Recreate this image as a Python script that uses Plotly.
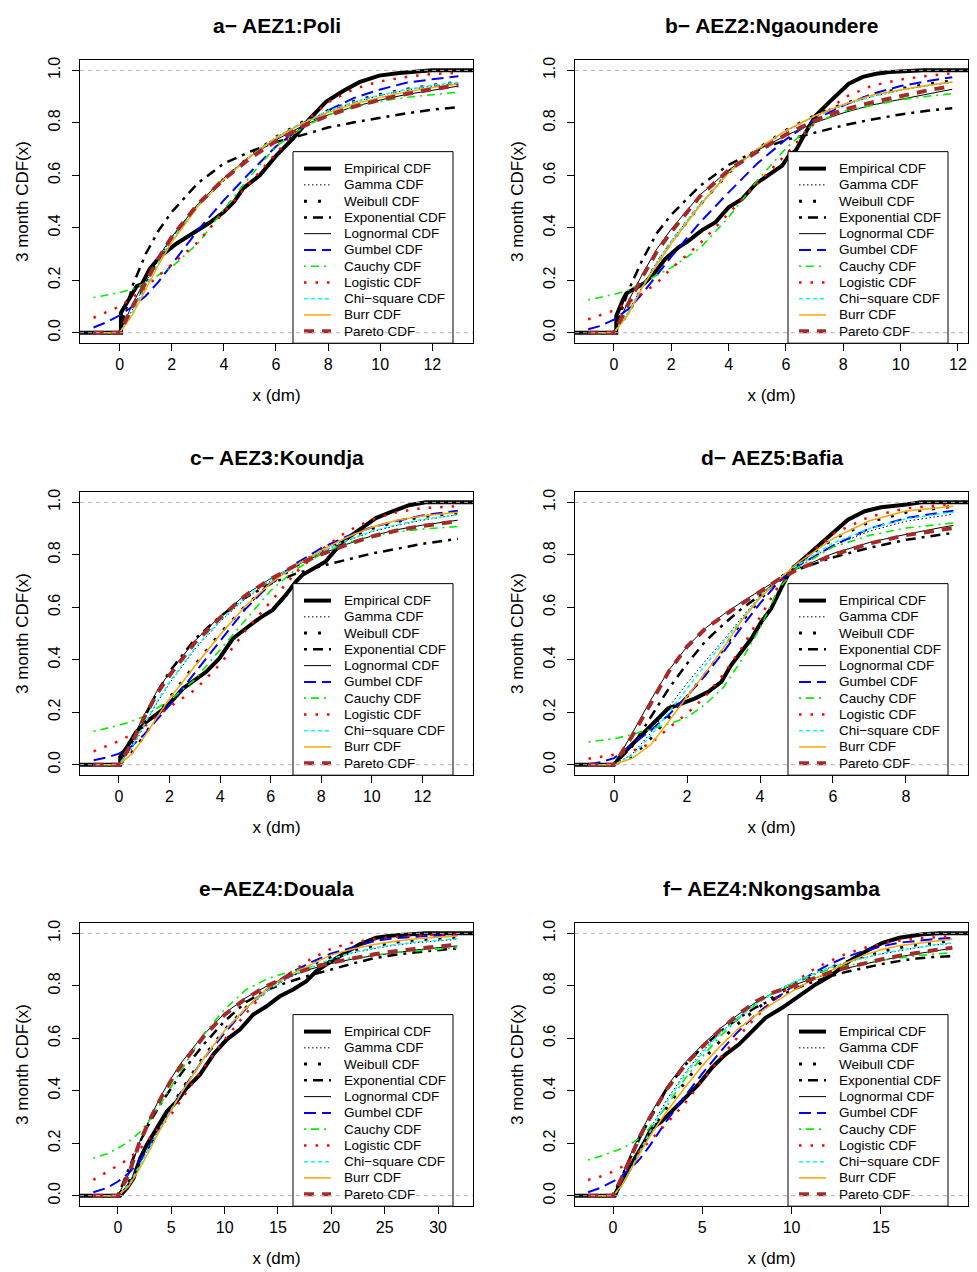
import plotly.graph_objects as go

# ---------------- data ----------------
TITLES = ["a\u2212 AEZ1:Poli", "b\u2212 AEZ2:Ngaoundere", "c\u2212 AEZ3:Koundja",
          "d\u2212 AEZ5:Bafia", "e\u2212AEZ4:Douala", "f\u2212 AEZ4:Nkongsamba"]
X_LABEL = "x (dm)"
Y_LABEL = "3 month CDF(x)"
LEGEND_LABELS = ["Empirical CDF", "Gamma CDF", "Weibull CDF", "Exponential CDF",
                 "Lognormal CDF", "Gumbel CDF", "Cauchy CDF", "Logistic CDF",
                 "Chi\u2212square CDF", "Burr CDF", "Pareto CDF"]
Y_TICKS = [0.0, 0.2, 0.4, 0.6, 0.8, 1.0]
X_TICKS = [[0, 2, 4, 6, 8, 10, 12], [0, 2, 4, 6, 8, 10, 12], [0, 2, 4, 6, 8, 10, 12],
           [0, 2, 4, 6, 8], [0, 5, 10, 15, 20, 25, 30], [0, 5, 10, 15]]
X_RANGES = [[-1.52, 13.56], [-1.36, 12.35], [-1.54, 14.0],
            [-1.07, 9.7], [-3.55, 33.27], [-2.13, 19.88]]

# ---- panel a
A_X = [-1, -0.5, 0, 0.5, 1, 1.5, 2, 3, 4, 5, 6, 7, 8, 9, 10, 11, 12, 13]
A_GAMMA = [0, 0, 0, 0.09, 0.19, 0.28, 0.36, 0.49, 0.59, 0.675, 0.745, 0.8, 0.845, 0.878, 0.905, 0.925, 0.94, 0.952]
A_WEIBULL = [0, 0, 0, 0.085, 0.185, 0.275, 0.355, 0.485, 0.585, 0.673, 0.745, 0.802, 0.847, 0.882, 0.908, 0.928, 0.943, 0.955]
A_EXP = [0, 0, 0, 0.18, 0.3, 0.39, 0.46, 0.57, 0.645, 0.69, 0.727, 0.753, 0.782, 0.802, 0.82, 0.836, 0.85, 0.86]
A_LNORM = [0, 0, 0, 0.11, 0.205, 0.29, 0.365, 0.49, 0.59, 0.67, 0.735, 0.787, 0.83, 0.862, 0.887, 0.908, 0.925, 0.94]
A_GUMBEL = [0.02, 0.04, 0.066, 0.10, 0.14, 0.195, 0.26, 0.39, 0.505, 0.61, 0.71, 0.785, 0.847, 0.895, 0.927, 0.953, 0.966, 0.978]
A_CAUCHY = [0.134, 0.143, 0.153, 0.167, 0.19, 0.22, 0.25, 0.34, 0.47, 0.595, 0.71, 0.78, 0.83, 0.86, 0.882, 0.897, 0.907, 0.917]
A_LOGIS = [0.057, 0.077, 0.10, 0.135, 0.172, 0.218, 0.26, 0.345, 0.46, 0.572, 0.687, 0.795, 0.878, 0.93, 0.958, 0.975, 0.986, 0.991]
A_CHISQ = [0, 0, 0, 0.08, 0.18, 0.27, 0.355, 0.485, 0.585, 0.672, 0.745, 0.8, 0.845, 0.88, 0.906, 0.927, 0.943, 0.955]
A_BURR = [0, 0, 0, 0.07, 0.165, 0.26, 0.345, 0.48, 0.585, 0.67, 0.742, 0.797, 0.84, 0.872, 0.897, 0.918, 0.935, 0.948]
A_PARETO = [0, 0, 0, 0.1, 0.195, 0.285, 0.365, 0.49, 0.585, 0.665, 0.73, 0.785, 0.828, 0.862, 0.888, 0.91, 0.928, 0.943]
A_EMP_X = [-1.52, 0.05, 0.05, 0.2, 0.41, 0.66, 0.85, 1.17, 1.55, 2.19, 2.83, 3.46, 4.0, 4.4, 4.74, 5.38, 6.01, 6.65, 7.29, 7.92, 8.56, 9.2, 9.96, 10.73, 12.0, 13.56]
A_EMP_Y = [0, 0, 0.076, 0.10, 0.14, 0.178, 0.185, 0.245, 0.29, 0.34, 0.38, 0.42, 0.46, 0.5, 0.55, 0.60, 0.675, 0.74, 0.815, 0.88, 0.92, 0.955, 0.98, 0.99, 1.0, 1.0]

# ---- panel b
B_X = [-0.9, -0.5, 0, 0.5, 1, 1.5, 2, 3, 4, 5, 6, 7, 8, 9, 10, 11, 11.8]
B_GAMMA = [0, 0, 0, 0.08, 0.18, 0.27, 0.35, 0.49, 0.61, 0.70, 0.77, 0.825, 0.867, 0.9, 0.924, 0.943, 0.955]
B_WEIBULL = [0, 0, 0, 0.075, 0.175, 0.265, 0.345, 0.487, 0.61, 0.70, 0.772, 0.828, 0.872, 0.905, 0.93, 0.948, 0.96]
B_EXP = [0, 0, 0, 0.16, 0.28, 0.38, 0.45, 0.56, 0.64, 0.695, 0.735, 0.762, 0.79, 0.813, 0.832, 0.847, 0.856]
B_LNORM = [0, 0, 0, 0.12, 0.225, 0.32, 0.395, 0.525, 0.62, 0.695, 0.752, 0.8, 0.838, 0.868, 0.89, 0.912, 0.928]
B_GUMBEL = [0.013, 0.025, 0.05, 0.09, 0.15, 0.22, 0.29, 0.42, 0.535, 0.645, 0.737, 0.812, 0.866, 0.91, 0.94, 0.96, 0.974]
B_CAUCHY = [0.125, 0.134, 0.146, 0.162, 0.19, 0.22, 0.248, 0.322, 0.44, 0.58, 0.703, 0.80, 0.844, 0.866, 0.888, 0.902, 0.911]
B_LOGIS = [0.051, 0.066, 0.085, 0.115, 0.15, 0.19, 0.245, 0.34, 0.456, 0.568, 0.68, 0.80, 0.895, 0.942, 0.965, 0.98, 0.989]
B_CHISQ = [0, 0, 0, 0.078, 0.178, 0.268, 0.35, 0.49, 0.61, 0.70, 0.77, 0.826, 0.868, 0.9, 0.925, 0.943, 0.955]
B_BURR = [0, 0, 0, 0.07, 0.175, 0.26, 0.34, 0.485, 0.61, 0.70, 0.77, 0.826, 0.87, 0.905, 0.926, 0.944, 0.956]
B_PARETO = [0, 0, 0, 0.11, 0.215, 0.31, 0.385, 0.52, 0.62, 0.69, 0.755, 0.808, 0.85, 0.878, 0.902, 0.925, 0.94]
B_EMP_X = [-1.36, 0.08, 0.08, 0.2, 0.32, 0.43, 0.73, 1.08, 1.43, 1.78, 2.25, 2.6, 3.06, 3.53, 4.0, 4.47, 4.94, 5.4, 5.87, 6.1, 6.34, 6.69, 7.04, 7.51, 7.86, 8.19, 8.68, 9.15, 9.61, 10.2, 10.8, 12.35]
B_EMP_Y = [0, 0, 0.064, 0.10, 0.127, 0.15, 0.17, 0.19, 0.23, 0.28, 0.325, 0.35, 0.39, 0.42, 0.478, 0.51, 0.567, 0.6, 0.637, 0.675, 0.694, 0.764, 0.828, 0.879, 0.917, 0.949, 0.975, 0.987, 0.994, 0.997, 1.0, 1.0]

# ---- panel c
C_X = [-1, -0.5, 0, 0.5, 1, 1.5, 2, 3, 4, 5, 6, 7, 8, 9, 10, 11, 12, 13.4]
C_GAMMA = [0, 0, 0, 0.06, 0.15, 0.235, 0.31, 0.44, 0.545, 0.633, 0.70, 0.757, 0.81, 0.853, 0.888, 0.912, 0.932, 0.953]
C_WEIBULL = [0, 0, 0, 0.045, 0.11, 0.185, 0.256, 0.38, 0.5, 0.605, 0.69, 0.758, 0.815, 0.862, 0.9, 0.927, 0.945, 0.96]
C_EXP = [0, 0, 0, 0.08, 0.18, 0.275, 0.355, 0.478, 0.565, 0.637, 0.69, 0.728, 0.757, 0.782, 0.805, 0.823, 0.842, 0.861]
C_LNORM = [0, 0, 0, 0.09, 0.19, 0.28, 0.35, 0.472, 0.565, 0.648, 0.71, 0.76, 0.803, 0.84, 0.872, 0.896, 0.913, 0.932]
C_GUMBEL = [0.017, 0.027, 0.042, 0.07, 0.115, 0.17, 0.227, 0.35, 0.47, 0.593, 0.69, 0.767, 0.825, 0.87, 0.905, 0.93, 0.95, 0.968]
C_CAUCHY = [0.127, 0.138, 0.15, 0.165, 0.185, 0.215, 0.245, 0.325, 0.438, 0.55, 0.664, 0.745, 0.803, 0.845, 0.872, 0.888, 0.898, 0.908]
C_LOGIS = [0.051, 0.07, 0.09, 0.115, 0.145, 0.185, 0.22, 0.285, 0.383, 0.51, 0.62, 0.733, 0.818, 0.888, 0.935, 0.963, 0.978, 0.985]
C_CHISQ = [0, 0, 0, 0.065, 0.155, 0.24, 0.315, 0.445, 0.55, 0.637, 0.705, 0.762, 0.812, 0.855, 0.89, 0.915, 0.935, 0.953]
C_BURR = [0, 0, 0, 0.04, 0.105, 0.18, 0.252, 0.375, 0.495, 0.605, 0.692, 0.76, 0.817, 0.866, 0.905, 0.932, 0.948, 0.962]
C_PARETO = [0, 0, 0, 0.08, 0.18, 0.27, 0.34, 0.465, 0.56, 0.645, 0.708, 0.76, 0.802, 0.838, 0.87, 0.893, 0.91, 0.928]
C_EMP_X = [-1.54, 0.05, 0.05, 0.16, 0.36, 0.68, 1.08, 1.6, 2.0, 2.53, 2.92, 3.45, 3.97, 4.5, 5.03, 5.55, 6.08, 6.6, 7.0, 7.26, 7.66, 8.18, 8.84, 9.5, 10.16, 10.82, 11.47, 12.13, 14.0]
C_EMP_Y = [0, 0, 0.03, 0.048, 0.074, 0.125, 0.163, 0.2, 0.233, 0.29, 0.316, 0.354, 0.405, 0.48, 0.52, 0.558, 0.59, 0.647, 0.698, 0.724, 0.746, 0.775, 0.85, 0.896, 0.94, 0.966, 0.989, 1.0, 1.0]

# ---- panel d
D_X = [-0.7, -0.35, 0, 0.5, 1, 1.5, 2, 2.5, 3, 3.5, 4, 4.5, 5, 6, 7, 8, 9, 9.3]
D_GAMMA = [0, 0, 0, 0.04, 0.12, 0.22, 0.31, 0.395, 0.475, 0.56, 0.645, 0.71, 0.755, 0.835, 0.89, 0.928, 0.95, 0.955]
D_WEIBULL = [0, 0, 0, 0.03, 0.1, 0.18, 0.26, 0.345, 0.44, 0.545, 0.63, 0.705, 0.765, 0.86, 0.925, 0.962, 0.981, 0.985]
D_EXP = [0, 0, 0, 0.07, 0.18, 0.29, 0.385, 0.47, 0.535, 0.595, 0.645, 0.70, 0.742, 0.79, 0.827, 0.857, 0.878, 0.883]
D_LNORM = [0, 0, 0, 0.12, 0.245, 0.36, 0.45, 0.52, 0.573, 0.62, 0.665, 0.707, 0.745, 0.805, 0.847, 0.878, 0.905, 0.912]
D_GUMBEL = [0.002, 0.01, 0.025, 0.078, 0.13, 0.19, 0.262, 0.34, 0.43, 0.525, 0.615, 0.695, 0.755, 0.835, 0.9, 0.94, 0.963, 0.968]
D_CAUCHY = [0.087, 0.092, 0.099, 0.115, 0.135, 0.155, 0.18, 0.23, 0.295, 0.4, 0.52, 0.67, 0.748, 0.83, 0.874, 0.902, 0.917, 0.921]
D_LOGIS = [0.023, 0.03, 0.038, 0.052, 0.08, 0.14, 0.195, 0.26, 0.345, 0.445, 0.56, 0.68, 0.762, 0.88, 0.945, 0.977, 0.99, 0.991]
D_CHISQ = [0, 0, 0, 0.035, 0.11, 0.2, 0.29, 0.38, 0.465, 0.555, 0.64, 0.708, 0.758, 0.845, 0.9, 0.937, 0.958, 0.962]
D_BURR = [0, 0, 0, 0.025, 0.075, 0.165, 0.26, 0.35, 0.445, 0.55, 0.635, 0.705, 0.765, 0.862, 0.93, 0.967, 0.982, 0.985]
D_PARETO = [0, 0, 0, 0.11, 0.235, 0.355, 0.45, 0.518, 0.568, 0.615, 0.66, 0.705, 0.742, 0.8, 0.843, 0.875, 0.896, 0.902]
D_EMP_X = [-1.07, 0.0, 0.2, 0.47, 0.75, 1.11, 1.48, 1.84, 2.21, 2.58, 2.94, 3.21, 3.49, 3.76, 4.04, 4.31, 4.58, 4.77, 4.95, 5.32, 5.68, 6.05, 6.41, 6.87, 7.32, 7.96, 8.42, 9.7]
D_EMP_Y = [0, 0, 0.036, 0.074, 0.112, 0.163, 0.214, 0.233, 0.252, 0.278, 0.316, 0.38, 0.43, 0.48, 0.545, 0.596, 0.673, 0.724, 0.755, 0.8, 0.845, 0.889, 0.934, 0.966, 0.981, 0.991, 1.0, 1.0]

# ---- panel e
E_X = [-2.3, -1, 0, 1, 2, 3, 4, 5, 6, 8, 10, 12, 14, 16, 18, 20, 22, 24, 26, 28, 30, 31.8]
E_GAMMA = [0, 0, 0, 0.045, 0.115, 0.19, 0.265, 0.335, 0.4, 0.525, 0.63, 0.715, 0.78, 0.83, 0.868, 0.9, 0.925, 0.942, 0.955, 0.965, 0.972, 0.977]
E_WEIBULL = [0, 0, 0, 0.05, 0.12, 0.195, 0.27, 0.34, 0.405, 0.528, 0.632, 0.717, 0.785, 0.838, 0.878, 0.91, 0.935, 0.952, 0.965, 0.974, 0.98, 0.984]
E_EXP = [0, 0, 0, 0.1, 0.2, 0.28, 0.35, 0.41, 0.47, 0.575, 0.665, 0.738, 0.785, 0.815, 0.84, 0.862, 0.885, 0.905, 0.918, 0.928, 0.936, 0.943]
E_LNORM = [0, 0, 0, 0.08, 0.2, 0.295, 0.378, 0.448, 0.51, 0.612, 0.695, 0.755, 0.8, 0.836, 0.863, 0.885, 0.902, 0.915, 0.927, 0.937, 0.945, 0.952]
E_GUMBEL = [0.013, 0.03, 0.054, 0.085, 0.13, 0.19, 0.26, 0.33, 0.4, 0.52, 0.62, 0.713, 0.79, 0.845, 0.888, 0.923, 0.948, 0.97, 0.982, 0.988, 0.992, 0.994]
E_CAUCHY = [0.143, 0.16, 0.181, 0.205, 0.24, 0.29, 0.35, 0.417, 0.483, 0.614, 0.71, 0.785, 0.827, 0.852, 0.873, 0.892, 0.907, 0.918, 0.927, 0.933, 0.94, 0.945]
E_LOGIS = [0.06, 0.09, 0.115, 0.14, 0.175, 0.22, 0.265, 0.31, 0.37, 0.488, 0.595, 0.695, 0.785, 0.845, 0.9, 0.942, 0.965, 0.978, 0.987, 0.992, 0.995, 0.996]
E_CHISQ = [0, 0, 0, 0.04, 0.11, 0.185, 0.26, 0.33, 0.397, 0.522, 0.628, 0.715, 0.782, 0.832, 0.87, 0.902, 0.927, 0.944, 0.957, 0.967, 0.974, 0.979]
E_BURR = [0, 0, 0, 0.035, 0.1, 0.175, 0.255, 0.325, 0.395, 0.52, 0.63, 0.715, 0.79, 0.84, 0.88, 0.918, 0.94, 0.957, 0.97, 0.979, 0.985, 0.99]
E_PARETO = [0, 0, 0, 0.08, 0.2, 0.29, 0.37, 0.44, 0.5, 0.605, 0.69, 0.752, 0.8, 0.838, 0.866, 0.888, 0.905, 0.92, 0.932, 0.942, 0.95, 0.957]
E_EMP_X = [-3.55, 0.2, 0.84, 1.46, 2.09, 2.71, 3.64, 4.58, 5.51, 6.45, 7.69, 8.94, 10.19, 11.43, 12.68, 13.93, 15.17, 16.42, 17.66, 18.6, 19.53, 21.09, 22.65, 24.2, 25.76, 28.88, 33.27]
E_EMP_Y = [0, 0, 0.028, 0.066, 0.143, 0.194, 0.257, 0.321, 0.359, 0.41, 0.461, 0.538, 0.595, 0.633, 0.69, 0.722, 0.76, 0.786, 0.818, 0.856, 0.882, 0.92, 0.958, 0.983, 0.992, 1.0, 1.0]

# ---- panel f
F_X = [-1.4, -0.7, 0, 0.5, 1, 1.5, 2, 3, 4, 5, 6, 7, 8, 9, 10, 11, 12, 13, 14, 15, 16, 17, 18, 19]
F_GAMMA = [0, 0, 0, 0.04, 0.11, 0.18, 0.245, 0.365, 0.465, 0.55, 0.62, 0.68, 0.733, 0.775, 0.81, 0.84, 0.866, 0.888, 0.906, 0.921, 0.934, 0.945, 0.955, 0.962]
F_WEIBULL = [0, 0, 0, 0.045, 0.105, 0.168, 0.23, 0.335, 0.43, 0.515, 0.59, 0.655, 0.71, 0.758, 0.8, 0.835, 0.865, 0.89, 0.912, 0.93, 0.945, 0.956, 0.965, 0.972]
F_EXP = [0, 0, 0, 0.075, 0.15, 0.22, 0.285, 0.405, 0.495, 0.565, 0.625, 0.675, 0.718, 0.752, 0.783, 0.81, 0.833, 0.852, 0.868, 0.882, 0.894, 0.904, 0.91, 0.913]
F_LNORM = [0, 0, 0, 0.075, 0.16, 0.235, 0.30, 0.415, 0.505, 0.575, 0.637, 0.69, 0.737, 0.772, 0.8, 0.823, 0.845, 0.865, 0.882, 0.897, 0.91, 0.922, 0.933, 0.943]
F_GUMBEL = [0.013, 0.03, 0.054, 0.075, 0.105, 0.14, 0.185, 0.285, 0.377, 0.465, 0.548, 0.625, 0.69, 0.745, 0.795, 0.84, 0.878, 0.908, 0.932, 0.95, 0.964, 0.972, 0.978, 0.983]
F_CAUCHY = [0.136, 0.15, 0.168, 0.18, 0.198, 0.22, 0.255, 0.34, 0.443, 0.53, 0.607, 0.673, 0.73, 0.775, 0.808, 0.837, 0.86, 0.876, 0.888, 0.897, 0.907, 0.915, 0.921, 0.926]
F_LOGIS = [0.06, 0.073, 0.092, 0.11, 0.14, 0.17, 0.205, 0.275, 0.35, 0.437, 0.525, 0.605, 0.68, 0.745, 0.805, 0.853, 0.89, 0.92, 0.943, 0.96, 0.972, 0.98, 0.986, 0.99]
F_CHISQ = [0, 0, 0, 0.035, 0.1, 0.17, 0.235, 0.355, 0.458, 0.545, 0.618, 0.678, 0.73, 0.773, 0.81, 0.84, 0.866, 0.888, 0.906, 0.922, 0.935, 0.946, 0.956, 0.963]
F_BURR = [0, 0, 0, 0.04, 0.1, 0.16, 0.22, 0.32, 0.41, 0.495, 0.57, 0.635, 0.688, 0.735, 0.778, 0.817, 0.852, 0.885, 0.915, 0.937, 0.953, 0.962, 0.97, 0.977]
F_PARETO = [0, 0, 0, 0.07, 0.15, 0.225, 0.29, 0.405, 0.495, 0.568, 0.632, 0.69, 0.74, 0.775, 0.797, 0.823, 0.847, 0.868, 0.885, 0.9, 0.914, 0.926, 0.936, 0.945]
F_EMP_X = [-2.13, 0.1, 0.38, 0.75, 1.22, 1.78, 2.16, 2.72, 3.28, 4.03, 4.78, 5.53, 6.29, 7.04, 7.79, 8.54, 9.47, 10.41, 11.35, 12.29, 13.23, 14.17, 15.1, 16.04, 17.35, 18.29, 19.88]
F_EMP_Y = [0, 0, 0.041, 0.079, 0.143, 0.206, 0.257, 0.283, 0.321, 0.372, 0.423, 0.487, 0.538, 0.576, 0.627, 0.678, 0.716, 0.761, 0.805, 0.843, 0.894, 0.932, 0.964, 0.983, 0.996, 1.0, 1.0]

PANELS = [
    (A_X, [A_GAMMA, A_WEIBULL, A_EXP, A_LNORM, A_GUMBEL, A_CAUCHY, A_LOGIS, A_CHISQ, A_BURR, A_PARETO], A_EMP_X, A_EMP_Y),
    (B_X, [B_GAMMA, B_WEIBULL, B_EXP, B_LNORM, B_GUMBEL, B_CAUCHY, B_LOGIS, B_CHISQ, B_BURR, B_PARETO], B_EMP_X, B_EMP_Y),
    (C_X, [C_GAMMA, C_WEIBULL, C_EXP, C_LNORM, C_GUMBEL, C_CAUCHY, C_LOGIS, C_CHISQ, C_BURR, C_PARETO], C_EMP_X, C_EMP_Y),
    (D_X, [D_GAMMA, D_WEIBULL, D_EXP, D_LNORM, D_GUMBEL, D_CAUCHY, D_LOGIS, D_CHISQ, D_BURR, D_PARETO], D_EMP_X, D_EMP_Y),
    (E_X, [E_GAMMA, E_WEIBULL, E_EXP, E_LNORM, E_GUMBEL, E_CAUCHY, E_LOGIS, E_CHISQ, E_BURR, E_PARETO], E_EMP_X, E_EMP_Y),
    (F_X, [F_GAMMA, F_WEIBULL, F_EXP, F_LNORM, F_GUMBEL, F_CAUCHY, F_LOGIS, F_CHISQ, F_BURR, F_PARETO], F_EMP_X, F_EMP_Y),
]

# ---------------- styles ----------------
STYLES = [
    dict(color="black", width=4, dash="solid"),                # Empirical
    dict(color="black", width=1, dash="1.5px,2.5px"),          # Gamma
    dict(color="black", width=3, dash="3px,11px"),             # Weibull
    dict(color="black", width=2.5, dash="3px,6px,10px,6px"),   # Exponential
    dict(color="black", width=1, dash="solid"),                # Lognormal
    dict(color="#0000FF", width=2, dash="12px,6px"),           # Gumbel
    dict(color="#00EE00", width=1.6, dash="2px,5px,8px,5px"),  # Cauchy
    dict(color="#FF0000", width=2.5, dash="2.5px,9px"),        # Logistic
    dict(color="#00FFFF", width=1.5, dash="4px,3px"),          # Chi-square
    dict(color="#FFA500", width=1.5, dash="solid"),            # Burr
    dict(color="#A52A2A", width=4, dash="10px,8px"),           # Pareto
]

FONT = "Liberation Sans, Arial, Helvetica, sans-serif"
W, H = 977, 1272
COL_L = [80, 575]
COL_W = 393
ROW_T = [57, 490, 922]
ROW_H = 284


def px_x(p):
    return p / W


def px_y(p):
    return 1 - p / H


fig = go.Figure()
layout = dict(width=W, height=H, margin=dict(l=0, r=0, t=0, b=0),
              paper_bgcolor="white", plot_bgcolor="white",
              font=dict(family=FONT, color="black"), showlegend=False)
shapes = []
annotations = []

for i, (grid, dists, ex, ey) in enumerate(PANELS):
    s = "" if i == 0 else str(i + 1)
    col, row = i % 2, i // 2
    L, T = COL_L[col], ROW_T[row]
    xa, ya = "x" + s, "y" + s

    # empirical first, then fitted curves
    fig.add_trace(go.Scatter(x=ex, y=ey, mode="lines", name=LEGEND_LABELS[0],
                             line=STYLES[0], xaxis=xa, yaxis=ya, hoverinfo="skip"))
    for k, yv in enumerate(dists):
        fig.add_trace(go.Scatter(x=grid, y=yv, mode="lines", name=LEGEND_LABELS[k + 1],
                                 line=STYLES[k + 1], xaxis=xa, yaxis=ya, hoverinfo="skip"))

    layout["xaxis" + s] = dict(
        domain=[px_x(L), px_x(L + COL_W)], anchor=ya, range=X_RANGES[i],
        tickmode="array", tickvals=X_TICKS[i], ticks="outside", ticklen=7,
        tickcolor="black", showline=True, linecolor="black", linewidth=1, mirror=True,
        showgrid=False, zeroline=False, tickfont=dict(size=16, family=FONT),
        ticklabelstandoff=0,
        title=dict(text=X_LABEL, font=dict(size=17, family=FONT), standoff=16))
    layout["yaxis" + s] = dict(
        domain=[px_y(T + ROW_H), px_y(T)], anchor=xa, range=[-0.04, 1.04],
        tickmode="array", tickvals=Y_TICKS, ticktext=["%.1f" % v for v in Y_TICKS],
        tickangle=-90, ticks="outside", ticklen=7, tickcolor="black",
        showline=True, linecolor="black", linewidth=1, mirror=True,
        showgrid=False, zeroline=False, tickfont=dict(size=16, family=FONT),
        ticklabelstandoff=6,
        title=dict(text=Y_LABEL, font=dict(size=17, family=FONT), standoff=12))

    # panel title
    annotations.append(dict(text="<b>%s</b>" % TITLES[i], xref="paper", yref="paper",
                            x=px_x(L + COL_W / 2), y=px_y(T - 34), xanchor="center",
                            yanchor="middle", showarrow=False,
                            font=dict(size=21, family=FONT, color="black")))

    # legend box (drawn over the curves)
    lx0, lx1 = L + 213, L + 373
    ly0, ly1 = T + 92, T + ROW_H
    shapes.append(dict(type="rect", xref="paper", yref="paper",
                       x0=px_x(lx0), x1=px_x(lx1), y0=px_y(ly1), y1=px_y(ly0),
                       fillcolor="white", line=dict(color="black", width=1), layer="above"))
    for k, lab in enumerate(LEGEND_LABELS):
        yc = ly0 + 17 + k * 16.3
        st = STYLES[k]
        shapes.append(dict(type="line", xref="paper", yref="paper",
                           x0=px_x(lx0 + 11), x1=px_x(lx0 + 38), y0=px_y(yc), y1=px_y(yc),
                           line=dict(color=st["color"], width=st["width"], dash=st["dash"]),
                           layer="above"))
        annotations.append(dict(text=lab, xref="paper", yref="paper",
                                x=px_x(lx0 + 49), y=px_y(yc), xanchor="left", yanchor="middle",
                                showarrow=False, font=dict(size=13.5, family=FONT, color="black")))

    # grey dashed reference lines at 0 and 1 (ecdf style)
    for yv in (0, 1):
        shapes.append(dict(type="line", xref=xa + " domain", yref=ya, x0=0, x1=1, y0=yv, y1=yv,
                           line=dict(color="#B3B3B3", width=1, dash="4px,4px"), layer="above"))

layout["shapes"] = shapes
layout["annotations"] = annotations
fig.update_layout(**layout)
fig.write_html("out.html", config={"displayModeBar": False},
               post_script="document.body.style.margin='0px';document.body.style.overflow='hidden';")
